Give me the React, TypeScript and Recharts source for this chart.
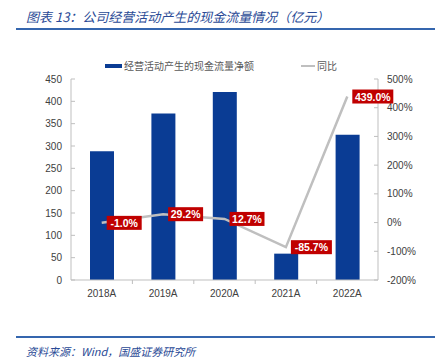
import {
  ComposedChart,
  Bar,
  Line,
  XAxis,
  YAxis,
  LabelList,
} from "recharts";

const years = ["2018A", "2019A", "2020A", "2021A", "2022A"];
const cashFlow = [288, 373, 421, 59, 325];
const yoy = [-1.0, 29.2, 12.7, -85.7, 439.0];
const leftTicks = [0, 50, 100, 150, 200, 250, 300, 350, 400, 450];
const rightTicks = [-200, -100, 0, 100, 200, 300, 400, 500];

const data = years.map((year, i) => ({
  year,
  cashFlow: cashFlow[i],
  yoy: yoy[i],
}));

const BLUE = "#0A3C94";
const GRAY = "#BFBFBF";
const FONT = "'Liberation Sans', Arial, sans-serif";
const CJK = "'Noto Sans CJK SC', sans-serif";

// red tag with white text, to the right of the point
const YoyLabel = (props: any) => {
  const { x, y, value } = props;
  const text = `${value.toFixed(1)}%`;
  const w = text.length * 6 + 5;
  return (
    <g>
      <rect x={x + 5} y={y - 7} width={w} height={14} fill="#C00000" />
      <text
        x={x + 5 + w / 2}
        y={y + 4}
        textAnchor="middle"
        fill="#fff"
        fontSize={10.5}
        fontWeight="bold"
        fontFamily={FONT}
      >
        {text}
      </text>
    </g>
  );
};

// x tick: label under the band, tick mark between bands
const XTick = (props: any) => {
  const { x, y, payload, index } = props;
  const band = 307 / years.length;
  return (
    <g>
      {index < years.length - 1 && (
        <line x1={x + band / 2} y1={y - 8} x2={x + band / 2} y2={y - 4} stroke={GRAY} />
      )}
      <text x={x} y={y + 9} textAnchor="middle" fill="#404040" fontSize={10} fontFamily={FONT}>
        {payload.value}
      </text>
    </g>
  );
};

const App = () => {
  return (
    <div
      style={{
        position: "absolute",
        top: 0,
        left: 0,
        width: 440,
        height: 362,
        background: "#fff",
      }}
    >
      <div
        style={{
          position: "absolute",
          left: 26,
          top: 7,
          fontFamily: CJK,
          fontStyle: "italic",
          fontSize: 13,
          color: "#2A4A96",
          whiteSpace: "nowrap",
        }}
      >
        图表 13：公司经营活动产生的现金流量情况（亿元）
      </div>
      <div
        style={{
          position: "absolute",
          left: 16,
          top: 28,
          width: 419,
          height: 2,
          background: "#3566AE",
        }}
      />

      {/* legend */}
      <div
        style={{
          position: "absolute",
          left: 105,
          top: 64,
          width: 17,
          height: 4,
          background: BLUE,
        }}
      />
      <div
        style={{
          position: "absolute",
          left: 124,
          top: 58,
          fontFamily: CJK,
          fontSize: 10,
          color: "#595959",
          whiteSpace: "nowrap",
        }}
      >
        经营活动产生的现金流量净额
      </div>
      <div
        style={{
          position: "absolute",
          left: 301,
          top: 65,
          width: 14,
          height: 1.5,
          background: GRAY,
        }}
      />
      <div
        style={{
          position: "absolute",
          left: 317,
          top: 58,
          fontFamily: CJK,
          fontSize: 10,
          color: "#595959",
        }}
      >
        同比
      </div>

      <div style={{ position: "absolute", left: 0, top: 0 }}>
        <ComposedChart
          width={440}
          height={362}
          data={data}
          margin={{ top: 79, right: 12, left: 31, bottom: 52 }}
          barCategoryGap="30%"
        >
          <XAxis
            dataKey="year"
            stroke={GRAY}
            tickLine={false}
            tick={<XTick />}
            height={30}
            interval={0}
          />
          <YAxis
            yAxisId="left"
            domain={[0, 450]}
            ticks={leftTicks}
            stroke={GRAY}
            tickSize={-4}
            tickMargin={13}
            width={40}
            tick={{ fill: "#404040", fontSize: 10, fontFamily: FONT }}
            interval={0}
          />
          <YAxis
            yAxisId="right"
            orientation="right"
            domain={[-200, 500]}
            ticks={rightTicks}
            stroke={GRAY}
            tickSize={-4}
            tickMargin={13}
            width={50}
            tickFormatter={(v) => `${v}%`}
            tick={{ fill: "#404040", fontSize: 10, fontFamily: FONT }}
            interval={0}
          />
          <Bar
            yAxisId="left"
            dataKey="cashFlow"
            fill={BLUE}
            barSize={24}
            isAnimationActive={false}
          />
          <Line
            yAxisId="right"
            dataKey="yoy"
            stroke={GRAY}
            strokeWidth={2.5}
            dot={false}
            isAnimationActive={false}
          >
            <LabelList dataKey="yoy" content={<YoyLabel />} />
          </Line>
        </ComposedChart>
      </div>

      <div
        style={{
          position: "absolute",
          left: 16,
          top: 336,
          width: 419,
          height: 2,
          background: "#3566AE",
        }}
      />
      <div
        style={{
          position: "absolute",
          left: 26,
          top: 343,
          fontFamily: CJK,
          fontStyle: "italic",
          fontSize: 11,
          color: "#2A4A96",
          whiteSpace: "nowrap",
        }}
      >
        资料来源：Wind，国盛证券研究所
      </div>
    </div>
  );
};

export default App;
